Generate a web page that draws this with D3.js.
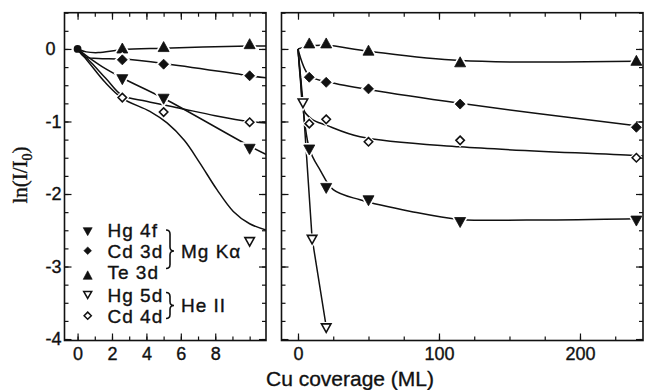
<!DOCTYPE html>
<html>
<head>
<meta charset="utf-8">
<script src="https://cdn.jsdelivr.net/npm/d3@7"></script>
<style>
  html, body { margin: 0; padding: 0; background: #fff; }
  svg { display: block; }
  text { stroke: #111; stroke-width: 0.35px; }
</style>
</head>
<body>
<svg id="chart" width="647" height="390"></svg>
<script>
// ---- Measured points: ln(I/I0) versus Cu coverage (ML) ----
// Low-coverage panel (0–10 ML)
const leftCoverage = [2.6, 5, 10];
const hg4fLeft = [-0.40, -0.67, -1.36];
const cd3dLeft = [-0.15, -0.21, -0.37];
const te3dLeft = [-0.01, 0.01, 0.05];
const cd4dLeft = [-0.67, -0.87, -1.01];
const hg5dLeftCoverage = [10];
const hg5dLeft = [-2.64];

// High-coverage panel (up to 240 ML)
const rightCoverage = [8, 20, 50, 115, 240];
const hg4fRight = [-1.37, -1.90, -2.07, -2.37, -2.35];
const cd3dRight = [-0.39, -0.46, -0.55, -0.76, -1.08];
const te3dRight = [0.06, 0.06, -0.04, -0.20, -0.18];
const cd4dRight = [-1.03, -0.97, -1.28, -1.26, -1.50];
const hg5dRightCoverage = [3.5, 10, 20];
const hg5dRight = [-0.73, -2.61, -3.83];

// Guide-to-the-eye curves, [coverage, ln(I/I0)]
const te3dFitLeft = [[0,0],[0.5,-0.04],[1.2,-0.05],[2.6,-0.01],[5,0.01],[10,0.04],[11,0.04]];
const cd3dFitLeft = [[0,0],[0.4,-0.11],[1.2,-0.13],[2.6,-0.14],[5,-0.20],[10,-0.37],[11,-0.40]];
const hg4fFitLeft = [[0,0],[0.6,-0.11],[1.4,-0.24],[2.6,-0.40],[5,-0.68],[10,-1.34],[11,-1.46]];
const cd4dFitLeft = [[0,0],[0.8,-0.19],[1.7,-0.42],[2.6,-0.64],[4,-0.72],[6,-0.82],[8,-0.92],[10,-1.0],[11,-1.02]];
const hg5dFitLeft = [[0,0],[0.7,-0.20],[1.6,-0.46],[2.6,-0.68],[4.2,-0.86],[5.2,-1.02],[6.2,-1.26],[7.1,-1.57],[8.1,-1.94],[9.05,-2.24],[10,-2.41],[11,-2.50]];

const te3dFitRight = [[0,0],[8,0.04],[20,0.05],[50,-0.03],[115,-0.16],[240,-0.17]];
const cd3dFitRight = [[0,0],[8,-0.37],[20,-0.45],[50,-0.56],[115,-0.75],[240,-1.06],[246,-1.07]];
const cd4dFitRight = [[0,0],[2,-0.45],[4,-0.84],[10,-0.97],[20,-1.05],[44,-1.21],[115,-1.35],[240,-1.47],[246,-1.48]];
const hg4fFitRight = [[0,0],[8,-1.37],[15.7,-1.67],[25,-1.94],[44,-2.08],[80,-2.24],[115,-2.35],[162,-2.36],[240,-2.34],[246,-2.34]];
const hg5dFitRight = [[0,0],[3.5,-0.73],[10,-2.61],[20,-3.83]];

// Axis ticks
const yMajor = [-4, -3, -2, -1, 0];
const yMinor = d3.range(-4, 0.51, 0.25);
const leftXMajor = [0, 2, 4, 6, 8];
const leftXMinor = d3.range(0, 11, 1);
const rightXMajor = [0, 100, 200];
const rightXMinor = d3.range(0, 250, 25);

// Legend entries
const legendNames = ["Hg 4f", "Cd 3d", "Te 3d", "Hg 5d", "Cd 4d"];
const legendGroups = ["Mg K\u03B1", "He II"];

// ---- Layout ----
const INK = "#111";
const svg = d3.select("#chart");
const plotTop = 12.7, plotBottom = 340.5;
const y = d3.scaleLinear().domain([-4.02, 0.5]).range([plotBottom, plotTop]);
const xL = d3.scaleLinear().domain([-0.76, 10.95]).range([64.5, 266]);
const xR = d3.scaleLinear().domain([-11.7, 244.7]).range([281.5, 643]);

// ---- Marker shapes (centred on centroid) ----
const triUp = (w, h) => `M0,${-2*h/3}L${w/2},${h/3}L${-w/2},${h/3}Z`;
const triDown = (w, h) => `M0,${2*h/3}L${w/2},${-h/3}L${-w/2},${-h/3}Z`;
const diamond = r => `M0,${-r}L${r},0L0,${r}L${-r},0Z`;

const styles = {
  hg4f: { path: triDown(11, 10), fill: INK, stroke: INK, sw: 0.8 },
  cd3d: { path: diamond(5), fill: INK, stroke: INK, sw: 0.8 },
  te3d: { path: triUp(11, 10), fill: INK, stroke: INK, sw: 0.8 },
  hg5d: { path: triDown(9.5, 8.5), fill: "#fff", stroke: INK, sw: 1.6 },
  cd4d: { path: diamond(4.2), fill: "#fff", stroke: INK, sw: 1.6 }
};
const legendStyles = {
  hg4f: { path: triDown(9, 8), fill: INK, stroke: INK, sw: 0.6 },
  cd3d: { path: diamond(3.8), fill: INK, stroke: INK, sw: 0.6 },
  te3d: { path: triUp(9, 8.5), fill: INK, stroke: INK, sw: 0.6 },
  hg5d: { path: triDown(8, 7), fill: "#fff", stroke: INK, sw: 1.5 },
  cd4d: { path: diamond(3.6), fill: "#fff", stroke: INK, sw: 1.5 }
};

function panel(id, x, xMajor, xMinor, labelY, series, fits, linearKeys) {
  const x0 = x.range()[0], x1 = x.range()[1];
  const g = svg.append("g").attr("class", id);

  svg.append("clipPath").attr("id", "clip-" + id)
    .append("rect").attr("x", x0).attr("y", plotTop).attr("width", x1 - x0).attr("height", plotBottom - plotTop);

  // Curves
  const lines = g.append("g").attr("clip-path", `url(#clip-${id})`);
  for (const [key, pts] of Object.entries(fits)) {
    const gen = d3.line().x(d => x(d[0])).y(d => y(d[1]))
      .curve(linearKeys.includes(key) ? d3.curveLinear : d3.curveCatmullRom.alpha(0.5));
    lines.append("path").attr("d", gen(pts))
      .attr("fill", "none").attr("stroke", INK).attr("stroke-width", 1.5);
  }

  // Markers with a white halo so curves break around them
  const marks = g.append("g");
  for (const s of series) {
    const st = styles[s.key];
    const pts = s.xs.map((v, i) => [v, s.ys[i]]);
    marks.selectAll(null).data(pts).join("path")
      .attr("transform", d => `translate(${x(d[0])},${y(d[1])})`)
      .attr("d", st.path).attr("fill", "#fff").attr("stroke", "#fff").attr("stroke-width", 4);
    marks.selectAll(null).data(pts).join("path")
      .attr("transform", d => `translate(${x(d[0])},${y(d[1])})`)
      .attr("d", st.path).attr("fill", st.fill).attr("stroke", st.stroke)
      .attr("stroke-width", st.sw).attr("stroke-linejoin", "miter");
  }

  // Ticks (all pointing inward)
  const axes = g.append("g").attr("color", INK);
  const tickStyle = sel => {
    sel.select(".domain").remove();
    sel.selectAll("line").attr("stroke-width", 1.2);
    sel.attr("font-family", "'Liberation Sans', Arial, sans-serif").attr("font-size", 18);
  };
  axes.append("g").attr("transform", `translate(0,${plotBottom})`)
    .call(d3.axisBottom(x).tickValues(xMinor).tickSize(-4).tickFormat("")).call(tickStyle);
  axes.append("g").attr("transform", `translate(0,${plotBottom})`)
    .call(d3.axisBottom(x).tickValues(xMajor).tickSize(-7).tickPadding(7).tickFormat(d3.format("d")))
    .call(tickStyle);
  axes.append("g").attr("transform", `translate(0,${plotTop})`)
    .call(d3.axisTop(x).tickValues(xMinor).tickSize(-4).tickFormat("")).call(tickStyle);
  axes.append("g").attr("transform", `translate(0,${plotTop})`)
    .call(d3.axisTop(x).tickValues(xMajor).tickSize(-7).tickFormat("")).call(tickStyle);

  axes.append("g").attr("transform", `translate(${x0},0)`)
    .call(d3.axisLeft(y).tickValues(yMinor).tickSize(-4).tickFormat("")).call(tickStyle);
  const yl = axes.append("g").attr("transform", `translate(${x0},0)`)
    .call(d3.axisLeft(y).tickValues(yMajor).tickSize(-7).tickPadding(3)
      .tickFormat(labelY ? (d => d === 0 ? "0" : "-" + Math.abs(d)) : ""))
    .call(tickStyle);
  yl.selectAll("text").filter(d => d === 0).attr("dx", -6);
  axes.append("g").attr("transform", `translate(${x1},0)`)
    .call(d3.axisRight(y).tickValues(yMinor).tickSize(-4).tickFormat("")).call(tickStyle);
  axes.append("g").attr("transform", `translate(${x1},0)`)
    .call(d3.axisRight(y).tickValues(yMajor).tickSize(-7).tickFormat("")).call(tickStyle);

  // Frame
  g.append("rect").attr("x", x0).attr("y", plotTop).attr("width", x1 - x0).attr("height", plotBottom - plotTop)
    .attr("fill", "none").attr("stroke", INK).attr("stroke-width", 1.6);
  return g;
}

// Low-coverage panel
const gL = panel("low", xL, leftXMajor, leftXMinor, true, [
  { key: "te3d", xs: leftCoverage, ys: te3dLeft },
  { key: "cd3d", xs: leftCoverage, ys: cd3dLeft },
  { key: "hg4f", xs: leftCoverage, ys: hg4fLeft },
  { key: "cd4d", xs: leftCoverage, ys: cd4dLeft },
  { key: "hg5d", xs: hg5dLeftCoverage, ys: hg5dLeft }
], { te3d: te3dFitLeft, cd3d: cd3dFitLeft, hg4f: hg4fFitLeft, cd4d: cd4dFitLeft, hg5d: hg5dFitLeft }, []);

// Common starting point at zero coverage
gL.append("circle").attr("cx", xL(0)).attr("cy", y(0)).attr("r", 3.9).attr("fill", INK);

// High-coverage panel
panel("high", xR, rightXMajor, rightXMinor, false, [
  { key: "te3d", xs: rightCoverage, ys: te3dRight },
  { key: "cd3d", xs: rightCoverage, ys: cd3dRight },
  { key: "hg4f", xs: rightCoverage, ys: hg4fRight },
  { key: "cd4d", xs: rightCoverage, ys: cd4dRight },
  { key: "hg5d", xs: hg5dRightCoverage, ys: hg5dRight }
], { te3d: te3dFitRight, cd3d: cd3dFitRight, cd4d: cd4dFitRight, hg4f: hg4fFitRight, hg5d: hg5dFitRight }, ["hg5d"]);

// ---- Legend ----
const legend = svg.append("g").attr("font-family", "'Liberation Sans', Arial, sans-serif")
  .attr("font-size", 19).attr("fill", INK);
const legendKeys = ["hg4f", "cd3d", "te3d", "hg5d", "cd4d"];
const symbolY = [230.3, 250.7, 276.5, 293.8, 315.7];
const textY = [236.7, 257.7, 279.3, 302.3, 323.3];
legendKeys.forEach((k, i) => {
  const st = legendStyles[k];
  legend.append("path").attr("transform", `translate(87.7,${symbolY[i]})`)
    .attr("d", st.path).attr("fill", st.fill).attr("stroke", st.stroke).attr("stroke-width", st.sw);
  legend.append("text").attr("x", 107.5).attr("y", textY[i])
    .attr("letter-spacing", 1).text(legendNames[i]);
});

// Curly braces grouping the excitation sources
function brace(x, y0, y1, ym) {
  const w = 8;
  return `M${x},${y0} Q${x + 4},${y0} ${x + 4},${y0 + 4} L${x + 4},${ym - 4} Q${x + 4},${ym} ${x + w},${ym}`
       + ` Q${x + 4},${ym} ${x + 4},${ym + 4} L${x + 4},${y1 - 4} Q${x + 4},${y1} ${x},${y1}`;
}
legend.append("path").attr("d", brace(166, 230, 268.5, 251)).attr("fill", "none")
  .attr("stroke", INK).attr("stroke-width", 1.6);
legend.append("path").attr("d", brace(166, 292.5, 318.5, 305.5)).attr("fill", "none")
  .attr("stroke", INK).attr("stroke-width", 1.6);
legend.append("text").attr("x", 181).attr("y", 257.7).attr("letter-spacing", 1).text(legendGroups[0]);
legend.append("text").attr("x", 181).attr("y", 311.7).attr("letter-spacing", 1).text(legendGroups[1]);

// ---- Axis titles ----
svg.append("text").attr("x", 350).attr("y", 386)
  .attr("text-anchor", "middle").attr("font-family", "'Liberation Sans', Arial, sans-serif")
  .attr("font-size", 21).attr("fill", INK).text("Cu coverage (ML)");

const yt = svg.append("text").attr("transform", "translate(27,175) rotate(-90)")
  .attr("text-anchor", "middle").attr("font-family", "'Liberation Serif', 'Times New Roman', serif")
  .attr("font-size", 21).attr("fill", INK);
yt.append("tspan").text("ln(I/I");
yt.append("tspan").attr("font-size", 14).attr("dy", 5).text("0");
yt.append("tspan").attr("dy", -5).text(")");
</script>
</body>
</html>
